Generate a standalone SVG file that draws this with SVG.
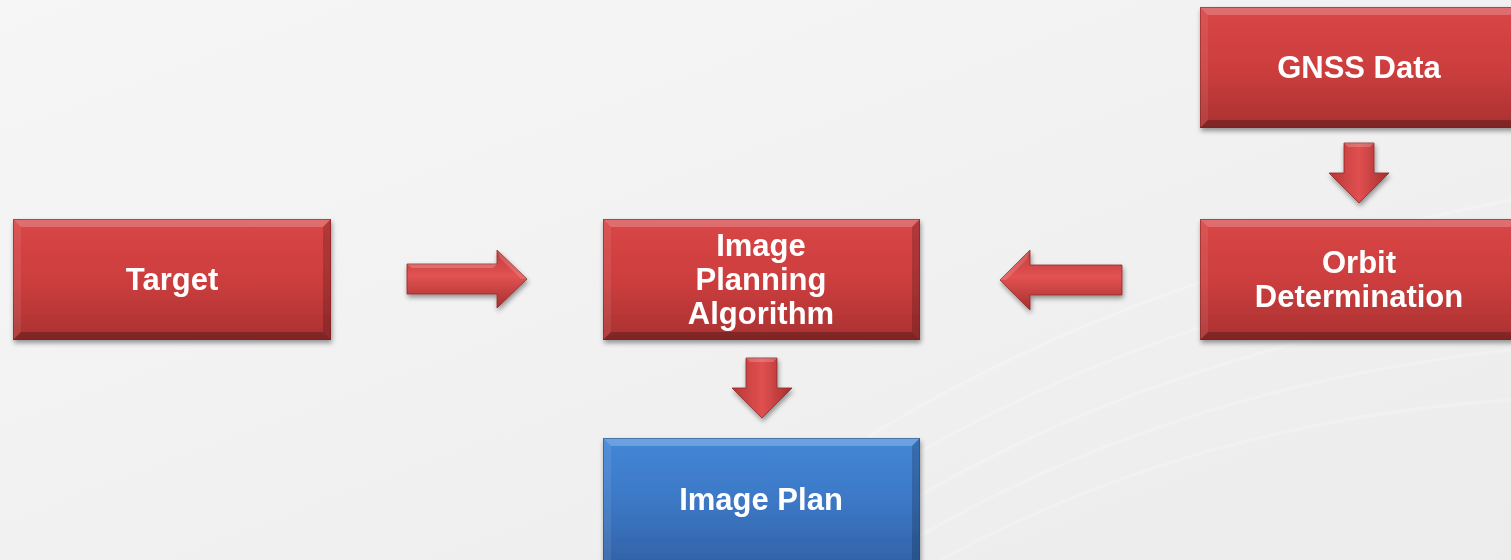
<svg xmlns="http://www.w3.org/2000/svg" width="1511" height="560" viewBox="0 0 1511 560">
<defs>
<linearGradient id="bg" x1="0" y1="0" x2="1" y2="1">
<stop offset="0" stop-color="#f6f6f6"/><stop offset="0.5" stop-color="#f1f1f1"/><stop offset="1" stop-color="#ececec"/>
</linearGradient>
<linearGradient id="red" x1="0" y1="0" x2="0" y2="1">
<stop offset="0" stop-color="#d94646"/><stop offset="0.5" stop-color="#cd3e3e"/><stop offset="1" stop-color="#aa3131"/>
</linearGradient>
<linearGradient id="blue" x1="0" y1="0" x2="0" y2="1">
<stop offset="0" stop-color="#4487d6"/><stop offset="0.5" stop-color="#3c78c6"/><stop offset="1" stop-color="#3263a8"/>
</linearGradient>
<linearGradient id="redH" x1="0" y1="0" x2="0" y2="1">
<stop offset="0" stop-color="#c23a3a"/><stop offset="0.45" stop-color="#e25252"/><stop offset="1" stop-color="#a52e2e"/>
</linearGradient>
<linearGradient id="redV" x1="0" y1="0" x2="1" y2="0">
<stop offset="0" stop-color="#b93636"/><stop offset="0.5" stop-color="#e05050"/><stop offset="1" stop-color="#a52e2e"/>
</linearGradient>
<filter id="sh" x="-10%" y="-10%" width="125%" height="130%">
<feGaussianBlur in="SourceAlpha" stdDeviation="2.5"/>
<feOffset dx="1" dy="3" result="b"/>
<feComponentTransfer><feFuncA type="linear" slope="0.4"/></feComponentTransfer>
<feMerge><feMergeNode/><feMergeNode in="SourceGraphic"/></feMerge>
</filter>
</defs>
<style>
.lbl{font-family:"Liberation Sans",Arial,sans-serif;font-weight:bold;font-size:31px;fill:#ffffff;text-anchor:middle}
.hiT{fill:#ffffff;opacity:0.22}
.hiL{fill:#ffffff;opacity:0.08}
.dkR{fill:#000000;opacity:0.18}
.dkB{fill:#000000;opacity:0.25}
.edge{fill:none;stroke:#7a2020;stroke-width:1;opacity:0.5}
.edgeB{fill:none;stroke:#24487a;stroke-width:1;opacity:0.5}
</style>
<rect width="1511" height="560" fill="url(#bg)"/>
<g opacity="0.2" stroke="#ffffff" stroke-width="3" fill="none">
<path d="M700 560 Q1000 300 1511 200"/>
<path d="M760 560 Q1050 330 1511 250"/>
<path d="M820 560 Q1100 360 1511 300"/>
<path d="M880 560 Q1150 390 1511 350"/>
<path d="M940 560 Q1200 420 1511 400"/>
</g>

<g id="node-target" filter="url(#sh)">
<rect x="13" y="219" width="318" height="121" fill="url(#red)"/>
<polygon class="hiT" points="13,219 331,219 323,227 21,227"/>
<polygon class="hiL" points="13,219 21,227 21,332 13,340"/>
<polygon class="dkR" points="331,219 331,340 323,332 323,227"/>
<polygon class="dkB" points="13,340 331,340 323,332 21,332"/>
<rect class="edge" x="13.5" y="219.5" width="317" height="120"/>
<text class="lbl" x="172" y="290">Target</text>
</g>

<g id="node-algorithm" filter="url(#sh)">
<rect x="603" y="219" width="317" height="121" fill="url(#red)"/>
<polygon class="hiT" points="603,219 920,219 912,227 611,227"/>
<polygon class="hiL" points="603,219 611,227 611,332 603,340"/>
<polygon class="dkR" points="920,219 920,340 912,332 912,227"/>
<polygon class="dkB" points="603,340 920,340 912,332 611,332"/>
<rect class="edge" x="603.5" y="219.5" width="316" height="120"/>
<text class="lbl" x="761" y="256">Image</text>
<text class="lbl" x="761" y="290">Planning</text>
<text class="lbl" x="761" y="324">Algorithm</text>
</g>

<g id="node-orbit" filter="url(#sh)">
<rect x="1200" y="219" width="318" height="121" fill="url(#red)"/>
<polygon class="hiT" points="1200,219 1518,219 1510,227 1208,227"/>
<polygon class="hiL" points="1200,219 1208,227 1208,332 1200,340"/>
<polygon class="dkB" points="1200,340 1518,340 1510,332 1208,332"/>
<rect class="edge" x="1200.5" y="219.5" width="317" height="120"/>
<text class="lbl" x="1359" y="273">Orbit</text>
<text class="lbl" x="1359" y="307">Determination</text>
</g>

<g id="node-gnss" filter="url(#sh)">
<rect x="1200" y="7" width="318" height="121" fill="url(#red)"/>
<polygon class="hiT" points="1200,7 1518,7 1510,15 1208,15"/>
<polygon class="hiL" points="1200,7 1208,15 1208,120 1200,128"/>
<polygon class="dkB" points="1200,128 1518,128 1510,120 1208,120"/>
<rect class="edge" x="1200.5" y="7.5" width="317" height="120"/>
<text class="lbl" x="1359" y="78">GNSS Data</text>
</g>

<g id="node-plan" filter="url(#sh)">
<rect x="603" y="438" width="317" height="125" fill="url(#blue)"/>
<polygon class="hiT" points="603,438 920,438 912,446 611,446"/>
<polygon class="hiL" points="603,438 611,446 611,563 603,563"/>
<polygon class="dkR" points="920,438 920,563 912,563 912,446"/>
<rect class="edgeB" x="603.5" y="438.5" width="316" height="124"/>
<text class="lbl" x="761" y="510">Image Plan</text>
</g>

<g id="connectors" filter="url(#sh)">
<polygon points="407,264 497,264 497,250 527,279 497,308 497,294 407,294" fill="url(#redH)" stroke="#8f2828" stroke-width="0.8"/>
<polygon points="407,264 497,264 493,268 412,268" fill="#ffffff" opacity="0.2"/>
<polygon points="497,250 527,279 521,279 500,258" fill="#ffffff" opacity="0.15"/>
<polygon points="1122,265 1030,265 1030,250 1000,280 1030,310 1030,295 1122,295" fill="url(#redH)" stroke="#8f2828" stroke-width="0.8"/>
<polygon points="1030,250 1000,280 1006,280 1027,259" fill="#ffffff" opacity="0.15"/>
<polygon points="746,358 777,358 777,388 792,388 762,418 732,388 746,388" fill="url(#redV)" stroke="#8f2828" stroke-width="0.8"/>
<polygon points="746,358 777,358 773,362 750,362" fill="#ffffff" opacity="0.2"/>
<polygon points="1344,143 1374,143 1374,173 1389,173 1359,203 1329,173 1344,173" fill="url(#redV)" stroke="#8f2828" stroke-width="0.8"/>
<polygon points="1344,143 1374,143 1370,147 1348,147" fill="#ffffff" opacity="0.2"/>
</g>
</svg>
